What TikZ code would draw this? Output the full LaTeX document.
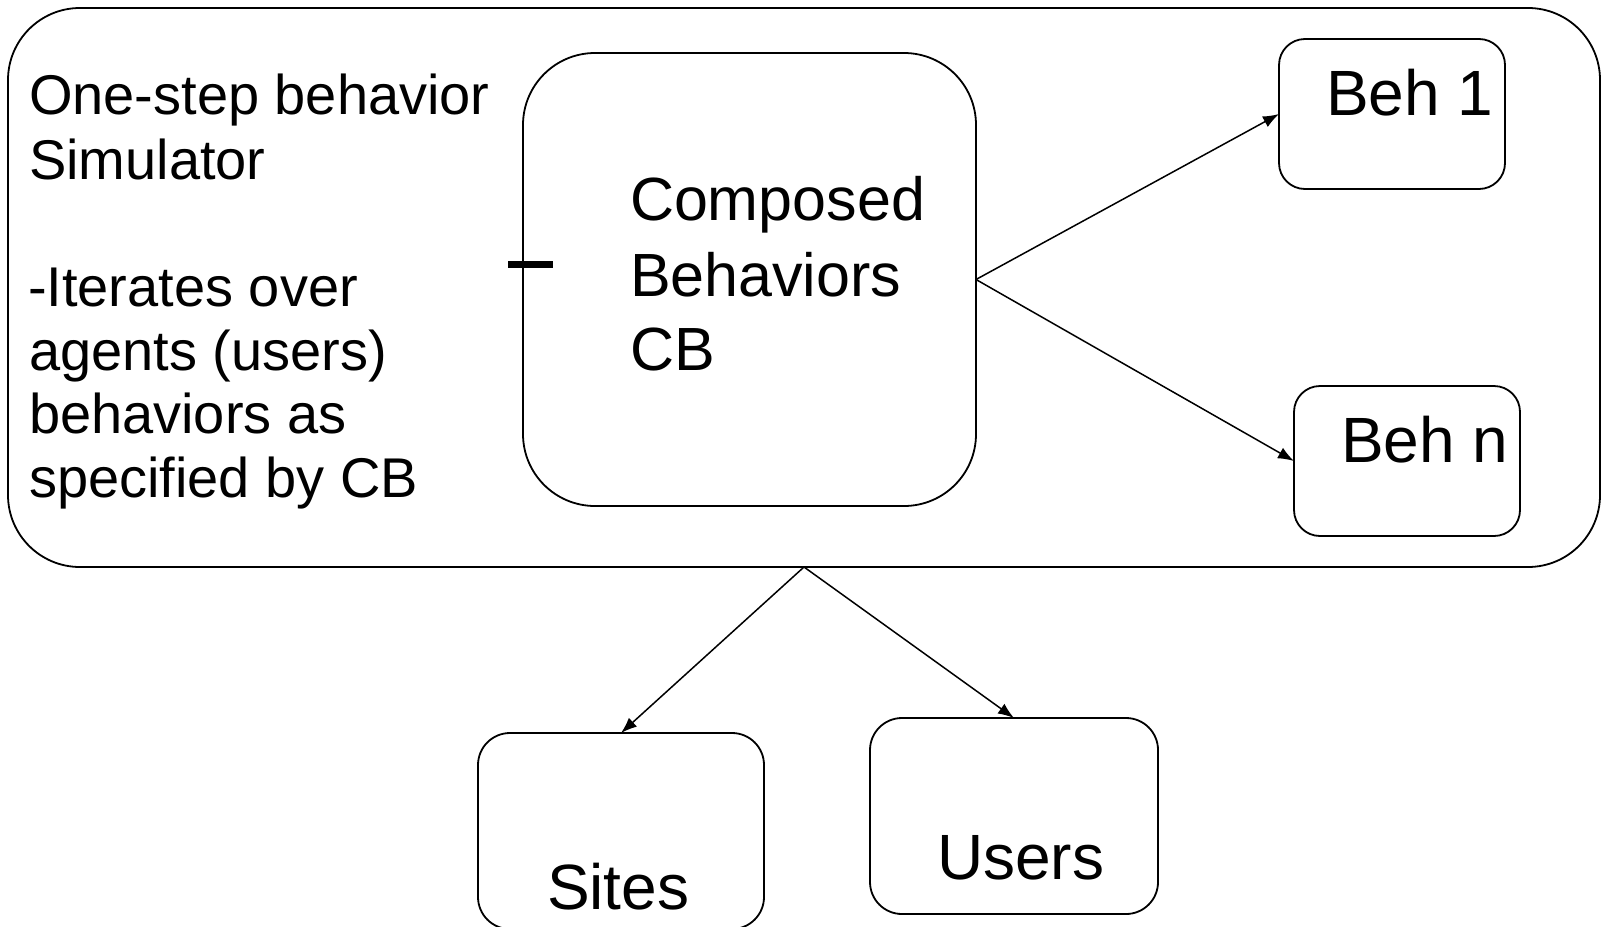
\documentclass[tikz,border=0pt]{standalone}
\usepackage{fontspec}
\setmainfont{Liberation Sans}
\usetikzlibrary{arrows.meta}
\begin{document}
\begin{tikzpicture}[x=1pt,y=-1pt,
  rbox/.style={draw, line width=1.8pt, inner sep=0pt, outer sep=0pt},
  lbl/.style={anchor=base west, inner sep=0pt, outer sep=0pt},
  body/.style={lbl, font=\fontsize{56}{64}\selectfont},
  big/.style={lbl, font=\fontsize{64}{74}\selectfont},
  cbtext/.style={lbl, font=\fontsize{61}{74}\selectfont},
  arr/.style={line width=1.5pt, -{Latex[length=16pt,width=12pt]}}]
\useasboundingbox (0,0) rectangle (1602,926);
\clip (0,0) rectangle (1602,926);
% boxes
\node[rbox, rounded corners=72pt, minimum width=1592pt, minimum height=559pt] (sim) at (804,287.5) {};
\node[rbox, rounded corners=72pt, minimum width=453pt, minimum height=453pt] (cb) at (749.5,279.5) {};
\node[rbox, rounded corners=26pt, minimum width=226pt, minimum height=150pt] (beh1) at (1392,114) {};
\node[rbox, rounded corners=26pt, minimum width=226pt, minimum height=150pt] (behn) at (1407,461) {};
\node[rbox, rounded corners=32pt, minimum width=286pt, minimum height=196pt] (sites) at (621,831) {};
\node[rbox, rounded corners=32pt, minimum width=288pt, minimum height=196pt] (users) at (1014,816) {};
% tick mark on CB box
\draw[line width=7pt] (508,264) -- (553,264);
% texts
\node[body] (t1) at (29,114) {One-step behavior};
\node[body] (t2) at (29,179) {Simulator};
\node[body] (t3) at (28,306) {-Iterates over};
\node[body] (t4) at (29,370) {agents (users)};
\node[body] (t5) at (29,433) {behaviors as};
\node[body] (t6) at (29,497) {specified by CB};
\node[cbtext] (c1) at (630,220) {Composed};
\node[cbtext] (c2) at (630,296) {Behaviors};
\node[cbtext] (c3) at (630,370) {CB};
\node[big] (b1) at (1326,115) {Beh 1};
\node[big] (bn) at (1341,462) {Beh n};
\node[big] (s1) at (547,909) {Sites};
\node[big] (u1) at (937,879) {Users};
% connectors
\draw[arr] (cb.east) -- (beh1.west);
\draw[arr] (cb.east) -- (behn.west);
\draw[arr] (sim.south) -- (sites.north);
\draw[arr] (sim.south) -- (users.north);
\end{tikzpicture}
\end{document}
